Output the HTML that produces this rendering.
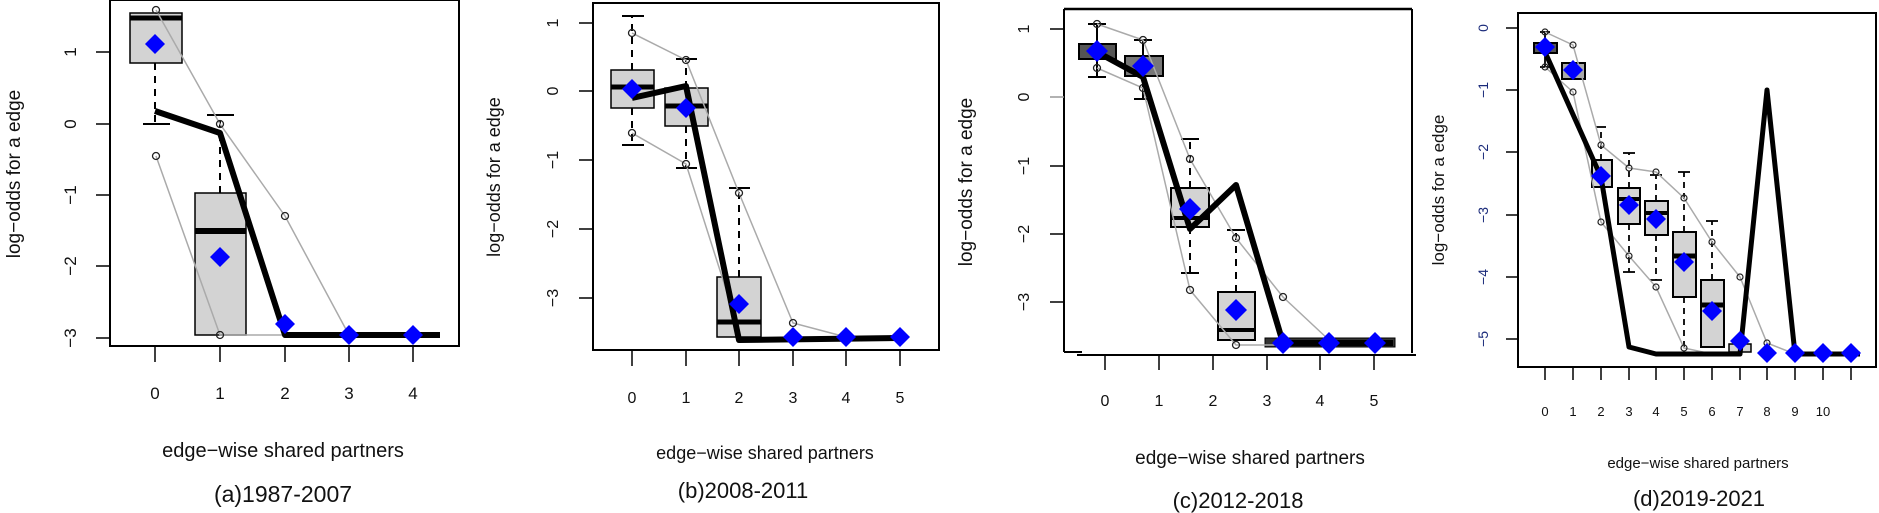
<!DOCTYPE html>
<html><head><meta charset="utf-8"><style>
html,body{margin:0;padding:0;background:#fff;}
svg{display:block;}
text{font-family:"Liberation Sans",sans-serif;fill:#111;}
</style></head><body>
<svg width="1879" height="513" viewBox="0 0 1879 513" xmlns="http://www.w3.org/2000/svg">
<defs>
<symbol id="dm" viewBox="-10 -10 20 20" overflow="visible"><polygon points="0,-10 10,0 0,10 -10,0" fill="#0000ff"/></symbol>
</defs>

<!-- ============ Panel A ============ -->
<g>
<rect x="110" y="0" width="349" height="346" fill="none" stroke="#000" stroke-width="2"/>
<g stroke="#000" stroke-width="1.5">
<line x1="96" y1="52" x2="110" y2="52"/><line x1="96" y1="124" x2="110" y2="124"/>
<line x1="96" y1="195" x2="110" y2="195"/><line x1="96" y1="266" x2="110" y2="266"/>
<line x1="96" y1="338" x2="110" y2="338"/>
<line x1="155" y1="346" x2="155" y2="362"/><line x1="220" y1="346" x2="220" y2="362"/>
<line x1="285" y1="346" x2="285" y2="362"/><line x1="349" y1="346" x2="349" y2="362"/>
<line x1="413" y1="346" x2="413" y2="362"/>
</g>
<g font-size="17" text-anchor="middle">
<text transform="translate(76,52) rotate(-90)">1</text>
<text transform="translate(76,124) rotate(-90)">0</text>
<text transform="translate(76,195) rotate(-90)">−1</text>
<text transform="translate(76,266) rotate(-90)">−2</text>
<text transform="translate(76,338) rotate(-90)">−3</text>
<text x="155" y="399">0</text><text x="220" y="399">1</text><text x="285" y="399">2</text><text x="349" y="399">3</text><text x="413" y="399">4</text>
</g>
<text transform="translate(20,174) rotate(-90)" font-size="19" text-anchor="middle">log−odds for a edge</text>
<text x="283" y="457" font-size="20" text-anchor="middle">edge−wise shared partners</text>
<text x="283" y="502" font-size="23" text-anchor="middle">(a)1987-2007</text>
<line x1="155" y1="63" x2="155" y2="124" stroke="#000" stroke-width="2" stroke-dasharray="7,6"/>
<line x1="143" y1="124" x2="170" y2="124" stroke="#000" stroke-width="2"/>
<rect x="130" y="13" width="52" height="50" fill="#d3d3d3" stroke="#000" stroke-width="1.5"/>
<line x1="130" y1="18" x2="182" y2="18" stroke="#000" stroke-width="5"/>
<line x1="220" y1="193" x2="220" y2="116" stroke="#000" stroke-width="2" stroke-dasharray="7,6"/>
<line x1="207" y1="115" x2="234" y2="115" stroke="#000" stroke-width="2"/>
<rect x="195" y="193" width="51" height="142" fill="#d3d3d3" stroke="#000" stroke-width="1.5"/>
<line x1="195" y1="231" x2="246" y2="231" stroke="#000" stroke-width="6"/>
<polyline points="156,10 220,124 285,216 349,335" fill="none" stroke="#aaa" stroke-width="1.5"/>
<polyline points="156,156 220,335 285,335" fill="none" stroke="#aaa" stroke-width="1.5"/>
<g fill="none" stroke="#222" stroke-width="1.3"><circle cx="156" cy="10" r="3.5"/><circle cx="156" cy="156" r="3.5"/><circle cx="220" cy="124" r="3.5"/><circle cx="285" cy="216" r="3.5"/><circle cx="220" cy="335" r="3.5"/></g>
<polyline points="155,111 220,133 285,335 440,335" fill="none" stroke="#000" stroke-width="6" stroke-linejoin="round"/>
<use href="#dm" x="145" y="34" width="20" height="20"/>
<use href="#dm" x="210" y="247" width="20" height="20"/>
<use href="#dm" x="275" y="314" width="20" height="20"/>
<use href="#dm" x="339" y="325" width="20" height="20"/>
<use href="#dm" x="403" y="325" width="20" height="20"/>
</g>

<!-- ============ Panel B ============ -->
<g>
<rect x="593" y="3" width="346" height="347" fill="none" stroke="#000" stroke-width="2"/>
<g stroke="#000" stroke-width="1.5">
<line x1="579" y1="23" x2="593" y2="23"/><line x1="579" y1="91" x2="593" y2="91"/>
<line x1="579" y1="160" x2="593" y2="160"/><line x1="579" y1="229" x2="593" y2="229"/>
<line x1="579" y1="298" x2="593" y2="298"/>
<line x1="632" y1="350" x2="632" y2="366"/><line x1="686" y1="350" x2="686" y2="366"/>
<line x1="739" y1="350" x2="739" y2="366"/><line x1="793" y1="350" x2="793" y2="366"/>
<line x1="846" y1="350" x2="846" y2="366"/><line x1="900" y1="350" x2="900" y2="366"/>
</g>
<g font-size="16" text-anchor="middle">
<text transform="translate(558,23) rotate(-90)">1</text>
<text transform="translate(558,91) rotate(-90)">0</text>
<text transform="translate(558,160) rotate(-90)">−1</text>
<text transform="translate(558,229) rotate(-90)">−2</text>
<text transform="translate(558,298) rotate(-90)">−3</text>
<text x="632" y="403">0</text><text x="686" y="403">1</text><text x="739" y="403">2</text><text x="793" y="403">3</text><text x="846" y="403">4</text><text x="900" y="403">5</text>
</g>
<text transform="translate(500,177) rotate(-90)" font-size="18" text-anchor="middle">log−odds for a edge</text>
<text x="765" y="459" font-size="18" text-anchor="middle">edge−wise shared partners</text>
<text x="743" y="498" font-size="22" text-anchor="middle">(b)2008-2011</text>
<g stroke="#000" stroke-width="2">
<line x1="632" y1="70" x2="632" y2="16" stroke-dasharray="7,6"/><line x1="622" y1="16" x2="644" y2="16"/>
<line x1="632" y1="108" x2="632" y2="145" stroke-dasharray="7,6"/><line x1="622" y1="145" x2="644" y2="145"/>
<line x1="686" y1="88" x2="686" y2="59" stroke-dasharray="7,6"/><line x1="676" y1="59" x2="697" y2="59"/>
<line x1="686" y1="126" x2="686" y2="168" stroke-dasharray="7,6"/><line x1="676" y1="168" x2="697" y2="168"/>
<line x1="739" y1="277" x2="739" y2="188" stroke-dasharray="7,6"/><line x1="729" y1="188" x2="750" y2="188"/>
</g>
<rect x="611" y="70" width="43" height="38" fill="#d3d3d3" stroke="#000" stroke-width="1.5"/>
<line x1="611" y1="87" x2="654" y2="87" stroke="#000" stroke-width="5"/>
<rect x="665" y="88" width="43" height="38" fill="#d3d3d3" stroke="#000" stroke-width="1.5"/>
<line x1="665" y1="106" x2="708" y2="106" stroke="#000" stroke-width="5"/>
<rect x="717" y="277" width="44" height="60" fill="#d3d3d3" stroke="#000" stroke-width="1.5"/>
<line x1="717" y1="322" x2="761" y2="322" stroke="#000" stroke-width="5"/>
<polyline points="632,33 686,60 739,193 793,323 846,337" fill="none" stroke="#aaa" stroke-width="1.5"/>
<polyline points="632,133 686,164 739,330" fill="none" stroke="#aaa" stroke-width="1.5"/>
<g fill="none" stroke="#222" stroke-width="1.3"><circle cx="632" cy="33" r="3.5"/><circle cx="632" cy="133" r="3.5"/><circle cx="686" cy="60" r="3.5"/><circle cx="686" cy="164" r="3.5"/><circle cx="739" cy="193" r="3.5"/><circle cx="793" cy="323" r="3.5"/></g>
<polyline points="632,98 686,86 739,340 900,338" fill="none" stroke="#000" stroke-width="6" stroke-linejoin="round"/>
<use href="#dm" x="622" y="79" width="20" height="20"/>
<use href="#dm" x="676" y="98" width="20" height="20"/>
<use href="#dm" x="729" y="294" width="20" height="20"/>
<use href="#dm" x="783" y="327" width="20" height="20"/>
<use href="#dm" x="836" y="327" width="20" height="20"/>
<use href="#dm" x="890" y="327" width="20" height="20"/>
</g>

<!-- ============ Panel C ============ -->
<g>
<line x1="1064" y1="9" x2="1412" y2="9" stroke="#000" stroke-width="2.5"/>
<line x1="1064" y1="9" x2="1064" y2="352" stroke="#000" stroke-width="2"/>
<line x1="1412" y1="9" x2="1412" y2="353" stroke="#000" stroke-width="2"/>
<line x1="1064" y1="352" x2="1082" y2="352" stroke="#000" stroke-width="2"/>
<line x1="1077" y1="355" x2="1416" y2="355" stroke="#000" stroke-width="2"/>
<g stroke="#000" stroke-width="1.5">
<line x1="1050" y1="29" x2="1064" y2="29"/><line x1="1050" y1="97" x2="1064" y2="97" stroke="#999"/>
<line x1="1050" y1="166" x2="1064" y2="166"/><line x1="1050" y1="234" x2="1064" y2="234"/>
<line x1="1050" y1="302" x2="1064" y2="302"/>
<line x1="1105" y1="355" x2="1105" y2="370"/><line x1="1159" y1="355" x2="1159" y2="370"/>
<line x1="1213" y1="355" x2="1213" y2="370"/><line x1="1267" y1="355" x2="1267" y2="370"/>
<line x1="1320" y1="355" x2="1320" y2="370"/><line x1="1374" y1="355" x2="1374" y2="370"/>
</g>
<g font-size="16" text-anchor="middle">
<text transform="translate(1029,29) rotate(-90)">1</text>
<text transform="translate(1029,97) rotate(-90)">0</text>
<text transform="translate(1029,166) rotate(-90)">−1</text>
<text transform="translate(1029,234) rotate(-90)">−2</text>
<text transform="translate(1029,302) rotate(-90)">−3</text>
<text x="1105" y="406">0</text><text x="1159" y="406">1</text><text x="1213" y="406">2</text><text x="1267" y="406">3</text><text x="1320" y="406">4</text><text x="1374" y="406">5</text>
</g>
<text transform="translate(972,182) rotate(-90)" font-size="19" text-anchor="middle">log−odds for a edge</text>
<text x="1250" y="464" font-size="19" text-anchor="middle">edge−wise shared partners</text>
<text x="1238" y="508" font-size="22" text-anchor="middle">(c)2012-2018</text>
<g stroke="#000" stroke-width="2">
<line x1="1097" y1="24" x2="1097" y2="44"/><line x1="1088" y1="24" x2="1106" y2="24"/>
<line x1="1097" y1="59" x2="1097" y2="77"/><line x1="1088" y1="77" x2="1106" y2="77"/>
<line x1="1143" y1="40" x2="1143" y2="56"/><line x1="1134" y1="40" x2="1152" y2="40"/>
<line x1="1143" y1="76" x2="1143" y2="99"/><line x1="1134" y1="99" x2="1152" y2="99"/>
<line x1="1190" y1="188" x2="1190" y2="139" stroke-dasharray="7,6"/><line x1="1181" y1="139" x2="1199" y2="139"/>
<line x1="1190" y1="227" x2="1190" y2="273" stroke-dasharray="7,6"/><line x1="1181" y1="273" x2="1199" y2="273"/>
<line x1="1236" y1="292" x2="1236" y2="230" stroke-dasharray="7,6"/><line x1="1227" y1="230" x2="1245" y2="230"/>
</g>
<rect x="1079" y="44" width="37" height="15" fill="#555" stroke="#000" stroke-width="2"/>
<rect x="1125" y="56" width="38" height="20" fill="#777" stroke="#000" stroke-width="2"/>
<rect x="1171" y="188" width="38" height="39" fill="#d3d3d3" stroke="#000" stroke-width="2"/>
<line x1="1171" y1="218" x2="1209" y2="218" stroke="#000" stroke-width="4"/>
<rect x="1218" y="292" width="37" height="48" fill="#d3d3d3" stroke="#000" stroke-width="2"/>
<line x1="1218" y1="330" x2="1255" y2="330" stroke="#000" stroke-width="4"/>
<rect x="1265" y="338" width="130" height="9" fill="#333" stroke="#000" stroke-width="1"/>
<polyline points="1097,24 1143,40 1190,159 1236,238 1283,297 1329,340" fill="none" stroke="#aaa" stroke-width="1.5"/>
<polyline points="1097,68 1143,88 1190,290 1236,345 1283,345" fill="none" stroke="#aaa" stroke-width="1.5"/>
<g fill="none" stroke="#222" stroke-width="1.3"><circle cx="1097" cy="24" r="3.5"/><circle cx="1097" cy="68" r="3.5"/><circle cx="1143" cy="40" r="3.5"/><circle cx="1143" cy="88" r="3.5"/><circle cx="1190" cy="159" r="3.5"/><circle cx="1190" cy="290" r="3.5"/><circle cx="1236" cy="238" r="3.5"/><circle cx="1236" cy="345" r="3.5"/><circle cx="1283" cy="297" r="3.5"/></g>
<polyline points="1097,52 1143,77 1190,229 1236,185 1283,343 1393,343" fill="none" stroke="#000" stroke-width="6" stroke-linejoin="round"/>
<use href="#dm" x="1086" y="39" width="22" height="24"/>
<use href="#dm" x="1132" y="54" width="22" height="24"/>
<use href="#dm" x="1179" y="197" width="22" height="24"/>
<use href="#dm" x="1225" y="298" width="22" height="24"/>
<use href="#dm" x="1272" y="331" width="22" height="24"/>
<use href="#dm" x="1318" y="331" width="22" height="24"/>
<use href="#dm" x="1364" y="331" width="22" height="24"/>
</g>

<!-- ============ Panel D ============ -->
<g>
<rect x="1518" y="13" width="358" height="354" fill="none" stroke="#000" stroke-width="2"/>
<g stroke="#000" stroke-width="1.5">
<line x1="1506" y1="28" x2="1518" y2="28"/><line x1="1506" y1="90" x2="1518" y2="90"/>
<line x1="1506" y1="152" x2="1518" y2="152"/><line x1="1506" y1="215" x2="1518" y2="215"/>
<line x1="1506" y1="277" x2="1518" y2="277"/><line x1="1506" y1="339" x2="1518" y2="339"/>
<line x1="1545" y1="367" x2="1545" y2="380"/><line x1="1573" y1="367" x2="1573" y2="380"/>
<line x1="1601" y1="367" x2="1601" y2="380"/><line x1="1629" y1="367" x2="1629" y2="380"/>
<line x1="1656" y1="367" x2="1656" y2="380"/><line x1="1684" y1="367" x2="1684" y2="380"/>
<line x1="1712" y1="367" x2="1712" y2="380"/><line x1="1740" y1="367" x2="1740" y2="380"/>
<line x1="1767" y1="367" x2="1767" y2="380"/><line x1="1795" y1="367" x2="1795" y2="380"/>
<line x1="1823" y1="367" x2="1823" y2="380"/><line x1="1851" y1="367" x2="1851" y2="380"/>
</g>
<g font-size="14" text-anchor="middle">
<text transform="translate(1488,28) rotate(-90)" style="fill:#1a2a7a">0</text>
<text transform="translate(1488,90) rotate(-90)" style="fill:#1a2a7a">−1</text>
<text transform="translate(1488,152) rotate(-90)" style="fill:#1a2a7a">−2</text>
<text transform="translate(1488,215) rotate(-90)" style="fill:#1a2a7a">−3</text>
<text transform="translate(1488,277) rotate(-90)" style="fill:#1a2a7a">−4</text>
<text transform="translate(1488,339) rotate(-90)" style="fill:#1a2a7a">−5</text>
</g>
<g font-size="13" text-anchor="middle">
<text x="1545" y="416">0</text><text x="1573" y="416">1</text><text x="1601" y="416">2</text><text x="1629" y="416">3</text><text x="1656" y="416">4</text><text x="1684" y="416">5</text><text x="1712" y="416">6</text><text x="1740" y="416">7</text><text x="1767" y="416">8</text><text x="1795" y="416">9</text><text x="1823" y="416">10</text>
</g>
<text transform="translate(1444,190) rotate(-90)" font-size="17" text-anchor="middle">log−odds for a edge</text>
<text x="1698" y="468" font-size="15" text-anchor="middle">edge−wise shared partners</text>
<text x="1699" y="506" font-size="22" text-anchor="middle">(d)2019-2021</text>
<g stroke="#000" stroke-width="1.8">
<line x1="1545" y1="32" x2="1545" y2="43"/><line x1="1540" y1="32" x2="1550" y2="32"/>
<line x1="1545" y1="53" x2="1545" y2="67"/><line x1="1540" y1="67" x2="1550" y2="67"/>
<line x1="1601" y1="160" x2="1601" y2="127" stroke-dasharray="6,5"/><line x1="1596" y1="127" x2="1606" y2="127"/>
<line x1="1629" y1="188" x2="1629" y2="153" stroke-dasharray="6,5"/><line x1="1623" y1="153" x2="1635" y2="153"/>
<line x1="1629" y1="224" x2="1629" y2="272" stroke-dasharray="6,5"/><line x1="1623" y1="272" x2="1635" y2="272"/>
<line x1="1656" y1="201" x2="1656" y2="175" stroke-dasharray="6,5"/><line x1="1650" y1="175" x2="1662" y2="175"/>
<line x1="1656" y1="235" x2="1656" y2="280" stroke-dasharray="6,5"/><line x1="1650" y1="280" x2="1662" y2="280"/>
<line x1="1684" y1="232" x2="1684" y2="172" stroke-dasharray="6,5"/><line x1="1678" y1="172" x2="1690" y2="172"/>
<line x1="1684" y1="297" x2="1684" y2="350" stroke-dasharray="6,5"/>
<line x1="1712" y1="280" x2="1712" y2="221" stroke-dasharray="6,5"/><line x1="1706" y1="221" x2="1718" y2="221"/>
</g>
<rect x="1534" y="43" width="23" height="10" fill="#555" stroke="#000" stroke-width="2"/>
<rect x="1562" y="63" width="23" height="16" fill="#aaa" stroke="#000" stroke-width="2"/>
<rect x="1592" y="160" width="20" height="27" fill="#d3d3d3" stroke="#000" stroke-width="2"/>
<rect x="1618" y="188" width="22" height="36" fill="#d3d3d3" stroke="#000" stroke-width="2"/>
<line x1="1618" y1="199" x2="1640" y2="199" stroke="#000" stroke-width="4"/>
<rect x="1645" y="201" width="23" height="34" fill="#d3d3d3" stroke="#000" stroke-width="2"/>
<line x1="1645" y1="213" x2="1668" y2="213" stroke="#000" stroke-width="4"/>
<rect x="1673" y="232" width="23" height="65" fill="#d3d3d3" stroke="#000" stroke-width="2"/>
<line x1="1673" y1="256" x2="1696" y2="256" stroke="#000" stroke-width="5"/>
<rect x="1701" y="280" width="23" height="67" fill="#d3d3d3" stroke="#000" stroke-width="2"/>
<line x1="1701" y1="305" x2="1724" y2="305" stroke="#000" stroke-width="5"/>
<rect x="1729" y="344" width="22" height="8" fill="#d3d3d3" stroke="#000" stroke-width="1.5"/>
<polyline points="1545,32 1573,45 1601,145 1629,168 1656,172 1684,198 1712,242 1740,277 1767,343 1795,354" fill="none" stroke="#aaa" stroke-width="1.5"/>
<polyline points="1545,67 1573,92 1601,222 1629,256 1656,287 1684,348 1712,354" fill="none" stroke="#aaa" stroke-width="1.5"/>
<g fill="none" stroke="#222" stroke-width="1.2"><circle cx="1545" cy="32" r="3"/><circle cx="1545" cy="67" r="3"/><circle cx="1573" cy="45" r="3"/><circle cx="1573" cy="92" r="3"/><circle cx="1601" cy="145" r="3"/><circle cx="1601" cy="222" r="3"/><circle cx="1629" cy="168" r="3"/><circle cx="1629" cy="256" r="3"/><circle cx="1656" cy="172" r="3"/><circle cx="1656" cy="287" r="3"/><circle cx="1684" cy="198" r="3"/><circle cx="1684" cy="348" r="3"/><circle cx="1712" cy="242" r="3"/><circle cx="1740" cy="277" r="3"/><circle cx="1767" cy="343" r="3"/></g>
<polyline points="1545,52 1601,177 1629,347 1656,354 1740,354 1767,90 1795,354 1860,354" fill="none" stroke="#000" stroke-width="5" stroke-linejoin="round"/>
<use href="#dm" x="1535" y="36" width="20" height="22"/>
<use href="#dm" x="1563" y="59" width="20" height="22"/>
<use href="#dm" x="1591" y="165" width="20" height="22"/>
<use href="#dm" x="1619" y="194" width="20" height="22"/>
<use href="#dm" x="1646" y="208" width="20" height="22"/>
<use href="#dm" x="1674" y="251" width="20" height="22"/>
<use href="#dm" x="1702" y="300" width="20" height="22"/>
<use href="#dm" x="1730" y="330" width="20" height="22"/>
<use href="#dm" x="1757" y="342" width="20" height="22"/>
<use href="#dm" x="1785" y="342" width="20" height="22"/>
<use href="#dm" x="1813" y="342" width="20" height="22"/>
<use href="#dm" x="1841" y="342" width="20" height="22"/>
</g>
</svg>
</body></html>
